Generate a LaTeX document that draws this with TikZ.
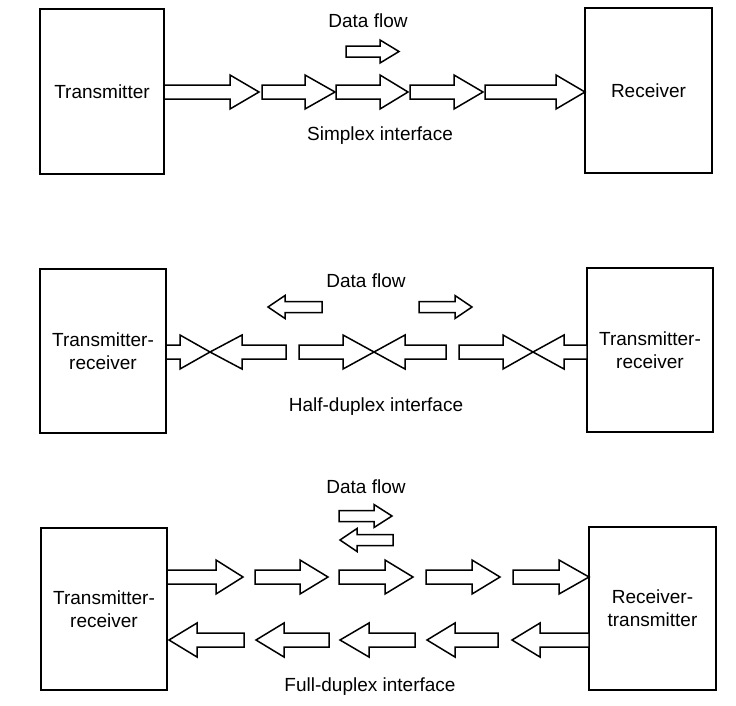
\documentclass[tikz,border=0pt]{standalone}
\usepackage{fontspec}
\setmainfont{Liberation Sans}

\tikzset{
  unit/.style={draw, line width=1.7pt, inner sep=0pt, align=center,
    minimum width=126pt, minimum height=164pt},
  flow/.style={draw, line width=1.5pt, line join=miter, fill=white},
  lbl/.style={font=\fontsize{19}{23}\selectfont}
}

% big block arrow: body start, head base, tip, y
\newcommand{\bigarrow}[4]{%
  \draw[flow] (#1,#4-7) -- (#2,#4-7) -- (#2,#4-17) -- (#3,#4)
    -- (#2,#4+17) -- (#2,#4+7) -- (#1,#4+7) -- cycle;}
% small block arrow for the data flow sign
\newcommand{\smallarrow}[4]{%
  \draw[flow] (#1,#4-5.5) -- (#2,#4-5.5) -- (#2,#4-11.5) -- (#3,#4)
    -- (#2,#4+11.5) -- (#2,#4+5.5) -- (#1,#4+5.5) -- cycle;}

\begin{document}
\begin{tikzpicture}[x=1pt, y=-1pt, every node/.style={lbl}]
    \useasboundingbox (0,0) rectangle (736,705);

    % Simplex
    \node[unit, minimum width=124pt, minimum height=165pt] (tx) at (102,91.5) {Transmitter};
    \node[unit, minimum width=127pt, minimum height=165pt] (rx) at (648.5,90.5) {Receiver};
    \bigarrow{164}{230}{259}{92}
    \bigarrow{262}{305}{335}{92}
    \bigarrow{336}{380}{408}{92}
    \bigarrow{410}{454}{483}{92}
    \bigarrow{485}{556}{585}{92}
    \node (sflow) at (368,21) {Data flow};
    \smallarrow{346}{380}{399}{51.5}
    \node (simplex) at (380,136) {Simplex interface};

    % Half-duplex
    \node[unit] (htr) at (103,351) {Transmitter-\\receiver};
    \node[unit] (hrt) at (650,350) {Transmitter-\\receiver};
    \bigarrow{166}{180}{210}{352}
    \bigarrow{286}{242}{210}{352}
    \bigarrow{299}{343}{374}{352}
    \bigarrow{446}{405}{374}{352}
    \bigarrow{459}{503}{533}{352}
    \bigarrow{587}{564}{533}{352}
    \node (hflow) at (366,281) {Data flow};
    \smallarrow{322}{285}{268}{307}
    \smallarrow{419}{455}{472}{307}
    \node (half) at (376,407) {Half-duplex interface};

    % Full-duplex
    \node[unit, minimum height=162pt] (ftr) at (104,609) {Transmitter-\\receiver};
    \node[unit, minimum width=127pt, minimum height=163pt] (frt) at (652.5,608.5) {Receiver-\\transmitter};
    \bigarrow{167}{216}{243}{577}
    \bigarrow{255}{300}{328}{577}
    \bigarrow{339}{385}{413}{577}
    \bigarrow{426}{472}{500}{577}
    \bigarrow{513}{559}{589}{577}
    \bigarrow{244}{197}{169}{640}
    \bigarrow{329}{284}{256}{640}
    \bigarrow{415}{369}{340}{640}
    \bigarrow{498}{455}{427}{640}
    \bigarrow{589}{540}{512}{640}
    \node (fflow) at (366,487) {Data flow};
    \smallarrow{339}{374}{392}{516}
    \smallarrow{393}{357}{340}{540}
    \node (full) at (370,687) {Full-duplex interface};
\end{tikzpicture}
\end{document}
